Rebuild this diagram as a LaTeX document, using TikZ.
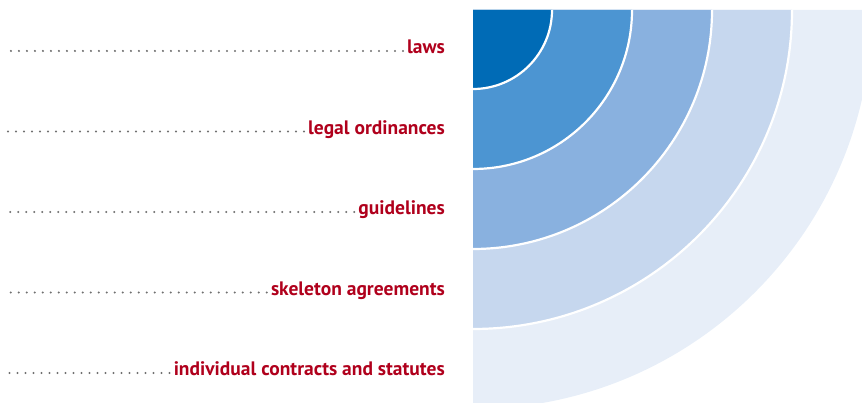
\documentclass[tikz,border=0pt]{standalone}
\usepackage{fontspec}
\setmainfont{PT Sans}
\definecolor{ringA}{HTML}{006BB6}
\definecolor{ringB}{HTML}{4C95D2}
\definecolor{ringC}{HTML}{89B1DF}
\definecolor{ringD}{HTML}{C6D7EE}
\definecolor{ringE}{HTML}{E7EEF8}
\definecolor{labelred}{HTML}{B0001C}
\definecolor{dotgray}{HTML}{707070}
\begin{document}
\begin{tikzpicture}[x=1pt,y=1pt,
  lbl/.style={anchor=base east,inner sep=0pt,text=labelred,font=\fontsize{19.5}{21}\selectfont\bfseries},
  dotline/.style={dotgray,line width=2.3pt,line cap=round,dash pattern=on 0pt off 8pt},
  sep/.style={white,line width=2.2pt}]
\useasboundingbox (0,0) rectangle (862,403);
\coordinate (c) at (473,393);
\begin{scope}
\clip (0,0) rectangle (862,403);
\fill[ringE] (c) -- ++(399,0) arc[start angle=0,end angle=-90,radius=399] -- cycle;
\fill[ringD] (c) -- ++(319,0) arc[start angle=0,end angle=-90,radius=319] -- cycle;
\fill[ringC] (c) -- ++(239,0) arc[start angle=0,end angle=-90,radius=239] -- cycle;
\fill[ringB] (c) -- ++(159,0) arc[start angle=0,end angle=-90,radius=159] -- cycle;
\fill[ringA] (c) -- ++(79,0) arc[start angle=0,end angle=-90,radius=79] -- cycle;
\draw[sep] ([xshift=319pt]c) arc[start angle=0,end angle=-90,radius=319];
\draw[sep] ([xshift=239pt]c) arc[start angle=0,end angle=-90,radius=239];
\draw[sep] ([xshift=159pt]c) arc[start angle=0,end angle=-90,radius=159];
\draw[sep] ([xshift=79pt]c) arc[start angle=0,end angle=-90,radius=79];
\end{scope}
\node[lbl] (l1) at (445,349) {laws};
\node[lbl] (l2) at (445,268.5) {legal ordinances};
\node[lbl] (l3) at (445,188) {guidelines};
\node[lbl] (l4) at (445,107.5) {skeleton agreements};
\node[lbl] (l5) at (445,27) {individual contracts and statutes};
\foreach \i in {1,...,5}{
  \coordinate (s\i) at ([yshift=3pt]l\i.base west -| 4,0);
  \draw[dotline] ([xshift=-4pt,yshift=3pt]l\i.base west) -- (s\i);
}
\end{tikzpicture}
\end{document}
